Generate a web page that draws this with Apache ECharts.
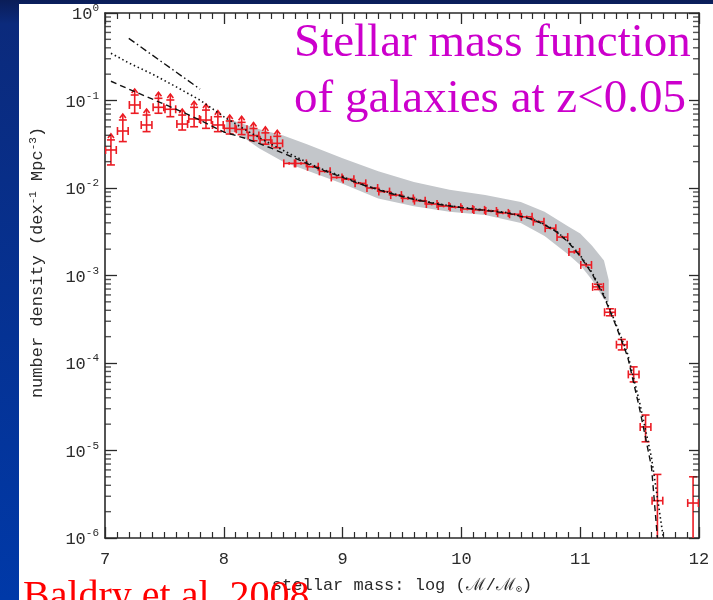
<!DOCTYPE html>
<html>
<head>
<meta charset="utf-8">
<script src="https://cdn.jsdelivr.net/npm/echarts/dist/echarts.min.js"></script>
<style>
html,body{margin:0;padding:0;background:#0a2f8a;}
#chart{width:713px;height:600px;}
</style>
</head>
<body>
<div id="chart"></div>
<script>
// ---- data ----
const massBins = [7.05,7.15,7.25,7.35,7.45,7.55,7.65,7.75,7.85,7.95,8.05,8.15,8.25,8.35,8.45,
  8.55,8.65,8.75,8.85,8.95,9.05,9.15,9.25,9.35,9.45,9.55,9.65,9.75,9.85,9.95,
  10.05,10.15,10.25,10.35,10.45,10.55,10.65,10.75,10.85,10.95,
  11.05,11.15,11.25,11.35,11.45,11.55,11.65,11.95];
const density = [0.0272,0.0448,0.0889,0.0525,0.0836,0.0794,0.0538,0.0615,0.0598,0.0525,0.0481,0.0468,0.0398,0.0355,0.0324,
  0.0191,0.0191,0.0175,0.0155,0.0132,0.0126,0.0113,0.0100,0.0091,0.0083,0.0076,0.00716,0.00656,0.00622,0.00603,
  0.00575,0.00562,0.00546,0.00519,0.00501,0.00468,0.00412,0.00347,0.00275,0.00186,
  0.00132,0.000741,0.00038,0.000162,0.0000741,0.0000186,0.00000267,0.00000251];
const errHighDex = [0.115,0.126,0.114,0.114,0.103,0.106,0.103,0.133,0.114,0.095,0.084,0.08,0.08,0.08,0.08,
  0.015,0.015,0.015,0.015,0.015,0.015,0.015,0.015,0.015,0.015,0.015,0.015,0.015,0.015,0.015,
  0.015,0.015,0.015,0.015,0.015,0.015,0.015,0.015,0.015,0.02,
  0.025,0.03,0.04,0.06,0.086,0.136,0.30,0.30];
const errLowDex = [0.171,0.121,0.095,0.076,0.068,0.085,0.068,0.089,0.095,0.076,0.065,0.06,0.06,0.05,0.05,
  0.015,0.015,0.015,0.015,0.015,0.015,0.015,0.015,0.015,0.015,0.015,0.015,0.015,0.015,0.015,
  0.015,0.015,0.015,0.015,0.015,0.015,0.015,0.015,0.015,0.02,
  0.025,0.03,0.04,0.06,0.086,0.17,3,3];
const lowerLimitCount = 15; // first bins drawn with upward arrows
const binHalfWidth = 0.045;

const dashMass = [7.05,7.2,7.4,7.6,7.8,8.0,8.2,8.4,8.6,8.8,9.0,9.2,9.4,9.6,9.8,10.0,10.2,10.4,10.6,10.7,10.8,10.9,11.0,11.1,11.2,11.3,11.4,11.5,11.6,11.65];
const dashDensity = [0.166,0.135,0.1035,0.0794,0.0596,0.0437,0.0363,0.0285,0.0219,0.0166,0.0132,0.0105,0.0087,0.00741,0.00653,0.00596,0.00556,0.00513,0.00437,0.0038,0.00316,0.0024,0.00166,0.00105,0.000575,0.000269,0.000117,0.00003,0.0000065,0.000001];
const dotMass = [7.05,7.2,7.4,7.6,7.8,8.0,8.2,8.4,8.6,8.8,9.0,9.2,9.4,9.6,9.8,10.0,10.2,10.4,10.6,10.7,10.8,10.9,11.0,11.1,11.2,11.3,11.4,11.5,11.6,11.7];
const dotDensity = [0.347,0.269,0.2,0.143,0.101,0.0653,0.0447,0.0316,0.0229,0.017,0.0135,0.0106,0.0088,0.0075,0.0066,0.006,0.0056,0.0052,0.0044,0.00385,0.0032,0.00245,0.0017,0.00108,0.0006,0.00028,0.000126,0.0000355,0.0000083,0.000001];
const upperMass = [7.2,7.5,7.8];
const upperDensity = [0.513,0.263,0.135];

const bandMass = [8.02,8.1,8.3,8.5,8.7,9.0,9.3,9.6,9.9,10.2,10.5,10.7,10.9,11.0,11.1,11.2,11.24];
const bandHigh = [0.0625,0.0575,0.0468,0.0398,0.0316,0.0219,0.0155,0.0117,0.00955,0.00832,0.0069,0.00537,0.00363,0.00302,0.00219,0.00148,0.00089];
const bandLow  = [0.0422,0.0437,0.0282,0.02,0.0158,0.0112,0.00759,0.00617,0.00537,0.0049,0.00398,0.00282,0.00174,0.00132,0.00089,0.000537,0.0005];

const xTicks = [7,8,9,10,11,12];
const minorMantissas = [2,3,4,5,6,7,8,9];
const decadeExponents = [-6,-5,-4,-3,-2,-1];
const titleText = 'Stellar mass function\nof galaxies at z<0.05';
const creditText = 'Baldry et al. 2008';

// ---- styles ----
const RED = '#ec1c24';
const INK = '#2a2a2a';
const MONO = '"Liberation Mono", "DejaVu Sans Mono", monospace';
const X_MIN = xTicks[0], X_MAX = xTicks[xTicks.length - 1];

const errData = massBins.map((m, i) => [
  m, density[i],
  density[i] / Math.pow(10, errLowDex[i]),
  density[i] * Math.pow(10, errHighDex[i]),
  i < lowerLimitCount ? 1 : 0
]);

// log minor-tick positions (2..9 x 10^n) for the frame
const minorLeft = [], minorRight = [];
decadeExponents.forEach(e => minorMantissas.forEach(k => {
  const v = Number((k * Math.pow(10, e)).toPrecision(3));
  minorLeft.push([X_MIN, v]);
  minorRight.push([X_MAX, v]);
}));

function renderErr(params, api) {
  const x = api.value(0), y = api.value(1), lo = api.value(2), hi = api.value(3), lim = api.value(4);
  const c = api.coord([x, y]);
  const l = api.coord([x - binHalfWidth, y]);
  const r = api.coord([x + binHalfWidth, y]);
  const pl = api.coord([x, lo]);
  const ph = api.coord([x, hi]);
  const st = {stroke: RED, lineWidth: 1.6, fill: null};
  const ln = (x1, y1, x2, y2) => ({type: 'line', shape: {x1, y1, x2, y2}, style: st});
  const kids = [
    ln(l[0], c[1], r[0], c[1]),
    ln(l[0], c[1] - 4, l[0], c[1] + 4),
    ln(r[0], c[1] - 4, r[0], c[1] + 4),
    ln(c[0], pl[1], c[0], ph[1])
  ];
  if (pl[1] - ph[1] > 5) {
    kids.push(ln(c[0] - 4, pl[1], c[0] + 4, pl[1]));
    kids.push(ln(c[0] - 4, ph[1], c[0] + 4, ph[1]));
  }
  if (lim) {
    const top = ph[1] - 6;
    kids.push(ln(c[0], ph[1], c[0], top));
    kids.push({type: 'polyline', shape: {points: [[c[0] - 3, top + 4], [c[0], top], [c[0] + 3, top + 4]]}, style: st});
  }
  return {type: 'group', children: kids};
}

function renderBand(params, api) {
  const pts = [];
  for (let i = 0; i < bandMass.length; i++) pts.push(api.coord([bandMass[i], bandHigh[i]]));
  for (let i = bandMass.length - 1; i >= 0; i--) pts.push(api.coord([bandMass[i], bandLow[i]]));
  return {type: 'polygon', shape: {points: pts}, style: {fill: '#c3c6ca', stroke: null}};
}

const axisLineStyle = {show: true, onZero: false, lineStyle: {color: INK, width: 1.6}};
const yLabelRich = {
  b: {fontFamily: MONO, fontSize: 17, color: INK, verticalAlign: 'bottom'},
  s: {fontFamily: MONO, fontSize: 11, color: INK, verticalAlign: 'top', padding: [0, 0, 9, 0]}
};

const tickSeries = (data, offset) => ({
  type: 'scatter', data: data, symbol: 'rect', symbolSize: [6, 1.4], symbolOffset: [offset, 0],
  itemStyle: {color: INK}, z: 6, silent: true, clip: false, animation: false
});

const chart = echarts.init(document.getElementById('chart'), null, {renderer: 'canvas'});
const option = {
  animation: false,
  title: {
    text: titleText,
    left: 289, top: 11,
    textStyle: {fontFamily: '"Liberation Serif", serif', fontSize: 47, fontWeight: 'normal', color: '#cc00cc', lineHeight: 56}
  },
  graphic: {elements: [
    {type: 'rect', z: -20, shape: {x: 0, y: 0, width: 713, height: 600},
      style: {fill: new echarts.graphic.LinearGradient(0, 0, 0, 1, [
        {offset: 0, color: '#0a1d58'}, {offset: 0.04, color: '#0b2a7c'}, {offset: 1, color: '#0039a8'}])}},
    {type: 'rect', z: -10, shape: {x: 19, y: 4, width: 694, height: 596}, style: {fill: '#ffffff'}},
    {type: 'text', z: 100, x: 23, y: 597,
      style: {text: creditText, fontFamily: '"Liberation Serif", serif', fontSize: 40, fill: '#ff0000', verticalAlign: 'middle'}}
  ]},
  grid: {left: 105, right: 14, top: 13, bottom: 62, outerBoundsMode: 'none'},
  xAxis: [
    {type: 'value', min: X_MIN, max: X_MAX, interval: 1, position: 'bottom',
      axisLine: axisLineStyle,
      axisTick: {show: true, inside: true, length: 11, lineStyle: {color: INK, width: 1.3}},
      minorTick: {show: true, splitNumber: 10, length: 6, lineStyle: {color: INK, width: 1.2}},
      splitLine: {show: false}, minorSplitLine: {show: false},
      axisLabel: {margin: 13, fontFamily: MONO, fontSize: 17, color: INK},
      name: '{a|stellar mass: log (ℳ/ℳ}{sub|⊙}{a|)}',
      nameLocation: 'middle', nameGap: 39, nameMoveOverlap: false,
      nameTextStyle: {fontFamily: MONO, fontSize: 17, color: INK,
        rich: {a: {fontFamily: MONO, fontSize: 17, color: INK}, sub: {fontSize: 10, color: INK, verticalAlign: 'bottom', padding: [7, 0, 0, 0]}}}},
    {type: 'value', min: X_MIN, max: X_MAX, interval: 1, position: 'top',
      axisLine: axisLineStyle,
      axisTick: {show: true, inside: true, length: 11, lineStyle: {color: INK, width: 1.3}},
      minorTick: {show: true, splitNumber: 10, length: 6, lineStyle: {color: INK, width: 1.2}},
      splitLine: {show: false}, minorSplitLine: {show: false},
      axisLabel: {show: false}}
  ],
  yAxis: [
    {type: 'log', logBase: 10, min: 1e-6, max: 1, position: 'left',
      axisLine: axisLineStyle,
      axisTick: {show: true, inside: true, length: 12, lineStyle: {color: INK, width: 1.3}},
      splitLine: {show: false},
      axisLabel: {margin: 6, formatter: v => '{b|10}{s|' + Math.round(Math.log10(v)) + '}', rich: yLabelRich},
      name: 'number density (dex{s|-1} Mpc{s|-3})',
      nameLocation: 'middle', nameGap: 58, nameMoveOverlap: false,
      nameTextStyle: {fontFamily: MONO, fontSize: 17, color: INK, padding: [0, 0, 0, 26],
        rich: {s: {fontFamily: MONO, fontSize: 11, color: INK, verticalAlign: 'top', padding: [0, 0, 8, 0]}}}},
    {type: 'log', logBase: 10, min: 1e-6, max: 1, position: 'right',
      axisLine: axisLineStyle,
      axisTick: {show: true, inside: true, length: 10, lineStyle: {color: INK, width: 1.3}},
      splitLine: {show: false},
      axisLabel: {show: false}}
  ],
  series: [
    {type: 'custom', name: 'band', renderItem: renderBand, data: [[bandMass[0], bandHigh[0]]], encode: {x: 0, y: 1}, z: 1, silent: true, clip: true},
    {type: 'custom', name: 'data', renderItem: renderErr, data: errData, z: 3, silent: true, clip: true,
      encode: {x: 0, y: 1}},
    {type: 'line', name: 'fit dashed', data: dashMass.map((m, i) => [m, dashDensity[i]]), symbol: 'none', z: 5, silent: true,
      lineStyle: {color: '#111', width: 1.4, type: [6, 4]}},
    {type: 'line', name: 'fit dotted', data: dotMass.map((m, i) => [m, dotDensity[i]]), symbol: 'none', z: 5, silent: true,
      lineStyle: {color: '#111', width: 1.6, type: [1.5, 2.8]}},
    {type: 'line', name: 'upper', data: upperMass.map((m, i) => [m, upperDensity[i]]), symbol: 'none', z: 5, silent: true,
      lineStyle: {color: '#111', width: 1.4, type: [7, 3, 1.5, 3]}},
    tickSeries(minorLeft, 3),
    tickSeries(minorRight, -3)
  ]
};
chart.setOption(option);
</script>
</body>
</html>
